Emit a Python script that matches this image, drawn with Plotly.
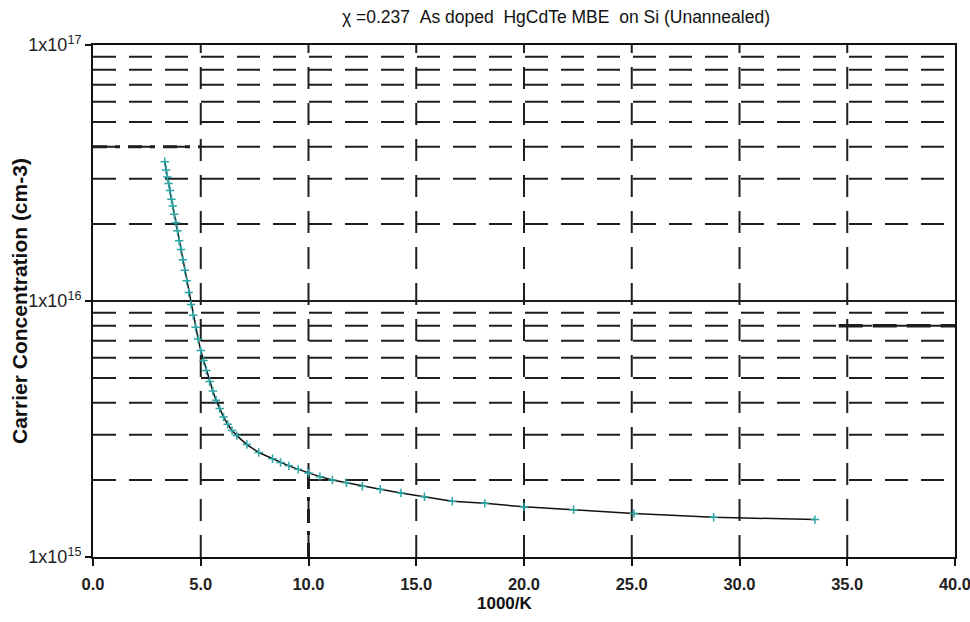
import plotly.graph_objects as go

# ---- data ----
inv_temp = [3.33, 3.39, 3.45, 3.51, 3.57, 3.64, 3.70, 3.77, 3.85, 3.92,
            4.00, 4.08, 4.17, 4.26, 4.35, 4.44, 4.55, 4.65, 4.76, 4.88,
            5.00, 5.13, 5.26, 5.41, 5.56, 5.71, 5.88, 6.06, 6.25, 6.45,
            6.67, 7.14, 7.69, 8.33, 8.70, 9.09, 9.52, 10.0, 10.53, 11.11,
            11.76, 12.5, 13.33, 14.29, 15.38, 16.67, 18.18, 20.0, 22.3, 25.1,
            28.8, 33.5]
carrier_conc = [35.0e15, 32.5e15, 30.5e15, 28.8e15, 27.0e15, 25.0e15, 23.5e15, 21.8e15, 20.2e15, 18.8e15,
                17.2e15, 15.9e15, 14.5e15, 13.2e15, 12.0e15, 10.8e15, 9.7e15, 8.8e15, 7.9e15, 7.1e15,
                6.4e15, 5.85e15, 5.35e15, 4.85e15, 4.45e15, 4.1e15, 3.8e15, 3.52e15, 3.30e15, 3.12e15,
                2.98e15, 2.75e15, 2.56e15, 2.42e15, 2.34e15, 2.27e15, 2.20e15, 2.13e15, 2.06e15, 2.00e15,
                1.95e15, 1.89e15, 1.84e15, 1.78e15, 1.72e15, 1.65e15, 1.62e15, 1.57e15, 1.53e15, 1.48e15,
                1.43e15, 1.40e15]

x_tick_vals = [0, 5, 10, 15, 20, 25, 30, 35, 40]
x_tick_text = ["0.0", "5.0", "10.0", "15.0", "20.0", "25.0", "30.0", "35.0", "40.0"]
y_tick_vals = [1e15, 1e16, 1e17]
y_tick_text = ["1x10<sup>15</sup>", "1x10<sup>16</sup>", "1x10<sup>17</sup>"]
y_minor_grid = [2e15, 3e15, 4e15, 5e15, 6e15, 7e15, 8e15, 9e15,
                2e16, 3e16, 4e16, 5e16, 6e16, 7e16, 8e16, 9e16]
y_major_grid = [1e16]
x_grid = [5, 10, 15, 20, 25, 30, 35]
x_min, x_max = 0, 40
y_min, y_max = 1e15, 1e17

GRID = "#1e1e1e"
FONT = "Liberation Sans"

fig = go.Figure()

# horizontal dashed grid
hx, hy = [], []
for v in y_minor_grid:
    hx += [x_min, x_max, None]
    hy += [v, v, None]
fig.add_trace(go.Scatter(x=hx, y=hy, mode="lines", hoverinfo="skip", showlegend=False,
                         line=dict(color=GRID, width=2, dash="23px,13px")))
# vertical dashed grid
vx, vy = [], []
for v in x_grid:
    vx += [v, v, None]
    vy += [y_min, y_max, None]
fig.add_trace(go.Scatter(x=vx, y=vy, mode="lines", hoverinfo="skip", showlegend=False,
                         line=dict(color=GRID, width=2, dash="22px,14px")))
# solid major line
mx, my = [], []
for v in y_major_grid:
    mx += [x_min, x_max, None]
    my += [v, v, None]
fig.add_trace(go.Scatter(x=mx, y=my, mode="lines", hoverinfo="skip", showlegend=False,
                         line=dict(color=GRID, width=2)))

# thicker artefact segments visible in the reference
fig.add_trace(go.Scatter(x=[0, 5], y=[4e16, 4e16], mode="lines", hoverinfo="skip", showlegend=False,
                         line=dict(color=GRID, width=3, dash="14px,8px,5px,8px")))
fig.add_trace(go.Scatter(x=[34.6, 40], y=[8e15, 8e15], mode="lines", hoverinfo="skip", showlegend=False,
                         line=dict(color=GRID, width=3.5, dash="24px,10px")))
fig.add_trace(go.Scatter(x=[10, 10], y=[1e15, 2.2e15], mode="lines", hoverinfo="skip", showlegend=False,
                         line=dict(color=GRID, width=3, dash="14px,8px,4px,8px")))

# data
fig.add_trace(go.Scatter(x=inv_temp, y=carrier_conc, mode="lines+markers", showlegend=False,
                         line=dict(color="#111111", width=1.5),
                         marker=dict(symbol="cross-thin", size=6,
                                     line=dict(color="#2aa6a6", width=1.5))))

fig.update_layout(
    width=970, height=622,
    margin=dict(l=93, r=15, t=45, b=65),
    paper_bgcolor="white", plot_bgcolor="white",
    font=dict(family=FONT, color="#111111"),
    xaxis=dict(range=[x_min, x_max], tickvals=x_tick_vals, ticktext=x_tick_text,
               automargin=False, ticklabeloverflow="allow", ticklabelstandoff=4,
               showgrid=False, zeroline=False, showline=True, linecolor="#111111", linewidth=2,
               mirror=True, ticks="outside", ticklen=7, tickwidth=2, tickcolor="#111111",
               tickfont=dict(family=FONT, size=16.5, color="#222222", weight="bold")),
    yaxis=dict(type="log", range=[15, 17], tickvals=y_tick_vals, ticktext=y_tick_text,
               automargin=False, ticklabeloverflow="allow",
               showgrid=False, zeroline=False, showline=True, linecolor="#111111", linewidth=2,
               mirror=True, ticks="outside", ticklen=6, tickwidth=2, tickcolor="#111111",
               tickfont=dict(family=FONT, size=18, color="#222222")),
    annotations=[
        dict(text="χ =0.237  As doped  HgCdTe MBE  on Si (Unannealed)", xref="paper", yref="paper",
             x=(556 - 93) / 862, y=1, yshift=28, xanchor="center", yanchor="middle", showarrow=False,
             font=dict(family=FONT, size=17.5, color="#111111")),
        dict(text="1000/K", xref="paper", yref="paper", x=(505 - 93) / 862, y=0, yshift=-46,
             xanchor="center", yanchor="middle", showarrow=False,
             font=dict(family=FONT, size=17, color="#111111", weight="bold")),
        dict(text="Carrier Concentration (cm-3)", xref="paper", yref="paper", x=0, xshift=-74,
             y=0.5, xanchor="center", yanchor="middle", textangle=-90, showarrow=False,
             font=dict(family=FONT, size=21, color="#111111", weight="bold")),
    ],
)

fig.write_html("out.html", config={"displayModeBar": False},
               post_script="document.body.style.margin='0';document.body.style.overflow='hidden';")
